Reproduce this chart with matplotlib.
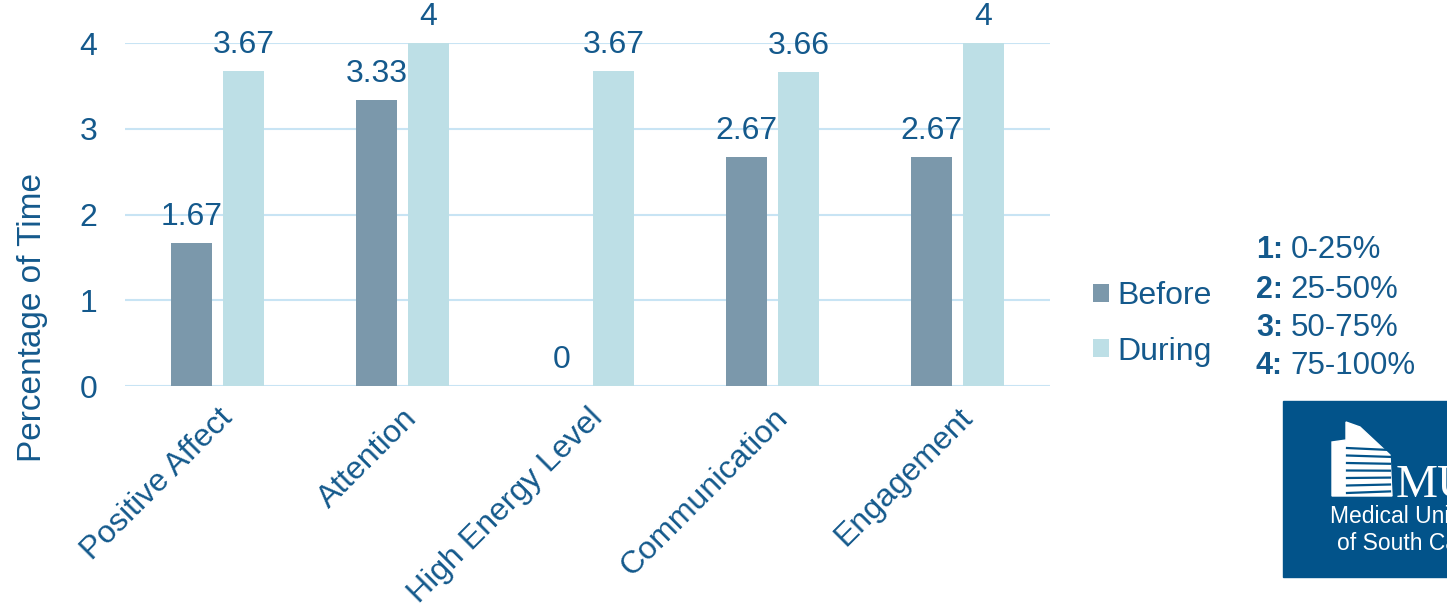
import numpy as np
import matplotlib
matplotlib.use("Agg")
import matplotlib.pyplot as plt
from matplotlib.patches import Rectangle, Polygon

plt.rcParams["font.family"] = ["Liberation Sans", "DejaVu Sans"]

categories = ["Positive Affect", "Attention", "High Energy Level", "Communication", "Engagement"]
before = [1.67, 3.33, 0, 2.67, 2.67]
during = [3.67, 4, 3.67, 3.66, 4]
before_lbl = ["1.67", "3.33", "0", "2.67", "2.67"]
during_lbl = ["3.67", "4", "3.67", "3.66", "4"]
key_num = ["1:", "2:", "3:", "4:"]
key_rng = ["0-25%", "25-50%", "50-75%", "75-100%"]

TXT = "#14598c"
C_BEFORE = "#7b98ab"
C_DURING = "#bddfe6"
GRID = "#c8e4f4"
LOGO = "#02538a"
FS = 23

fig = plt.figure(figsize=(14.47, 6.11), dpi=100)
ax = fig.add_axes([0.0864, 0.368, 0.6393, 0.5616])

x = np.arange(len(categories))
w, off = 0.22, 0.14
b1 = ax.bar(x - off, before, w, color=C_BEFORE, label="Before", zorder=3)
b2 = ax.bar(x + off, during, w, color=C_DURING, label="During", zorder=3)
for bars, labs in ((b1, before_lbl), (b2, during_lbl)):
    for r, s in zip(bars, labs):
        ax.annotate(s, (r.get_x() + r.get_width() / 2, r.get_height()),
                    xytext=(0, 8), textcoords="offset points", ha="center",
                    va="bottom", fontsize=FS, color=TXT, annotation_clip=False)

ax.set_xlim(-0.5, len(categories) - 0.5)
ax.set_ylim(0, 4)
ax.set_yticks([0, 1, 2, 3, 4])
ax.yaxis.grid(True, color=GRID, lw=1.5, zorder=0)
ax.set_axisbelow(True)
for s in ax.spines.values():
    s.set_visible(False)
ax.tick_params(length=0, labelsize=FS, labelcolor=TXT)
ax.tick_params(axis="y", pad=20)
ax.set_xticks(x)
ax.set_xticklabels(categories, rotation=45, ha="right", rotation_mode="anchor")
ax.tick_params(axis="x", pad=12)
ax.set_ylabel("Percentage of Time", fontsize=24, color=TXT, va="center")
ax.yaxis.set_label_coords(-0.0995, 0.2)

leg = fig.legend(handles=[b1, b2], loc="center left", bbox_to_anchor=(0.7355, 0.47),
                 frameon=False, fontsize=FS, handlelength=0.5, handleheight=0.5,
                 handletextpad=0.25, labelspacing=0.8)
for t in leg.get_texts():
    t.set_color(TXT)

ys = [0.591, 0.525, 0.463, 0.401]
for n, r, yy in zip(key_num, key_rng, ys):
    fig.text(0.868, yy, n, fontsize=22, fontweight="bold", color=TXT, va="center")
    fig.text(0.892, yy, r, fontsize=22.5, color=TXT, va="center")

# logo block
fig.patches.append(Rectangle((1283 / 1447, 1 - 577 / 611), 170 / 1447, 176 / 611,
                             transform=fig.transFigure, color=LOGO, zorder=5))
fig.patches.append(Polygon([(1332 / 1447, 1 - 496 / 611), (1332 / 1447, 1 - 442 / 611),
                            (1346 / 1447, 1 - 440 / 611), (1346 / 1447, 1 - 422 / 611),
                            (1360 / 1447, 1 - 427 / 611), (1390 / 1447, 1 - 455 / 611),
                            (1392 / 1447, 1 - 496 / 611)],
                           closed=True, transform=fig.transFigure, color="white", zorder=6))
for k in range(7):
    yy = 445 + k * 7.5
    fig.lines.append(plt.Line2D([1347 / 1447, 1390 / 1447],
                                [1 - (yy + 3) / 611, 1 - (yy + 5 - k * 0.6) / 611],
                                transform=fig.transFigure, color=LOGO, lw=1.6, zorder=7))
fig.text(1396 / 1447, 1 - 497 / 611, "MUSC", fontsize=34, family="Liberation Serif",
         color="white", va="baseline", zorder=8)
fig.text(1330 / 1447, 1 - 523 / 611, "Medical University", fontsize=16.5, color="white",
         va="baseline", zorder=8)
fig.text(1337 / 1447, 1 - 550 / 611, "of South Carolina", fontsize=16.5, color="white",
         va="baseline", zorder=8)

fig.savefig("out.png", dpi=100)
